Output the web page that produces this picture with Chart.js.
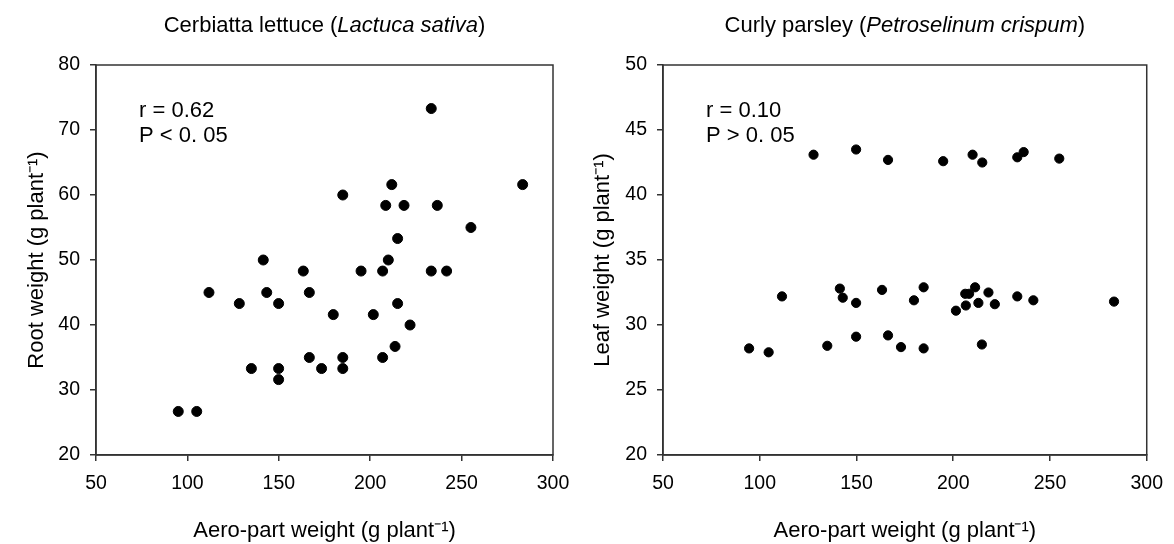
<!DOCTYPE html>
<html>
<head>
<meta charset="utf-8">
<script src="https://cdn.jsdelivr.net/npm/chart.js@4.4.0/dist/chart.umd.min.js"></script>
<style>
  body { margin: 0; background: #fff; }
  .panel { position: absolute; top: 0; width: 587px; height: 544px; }
</style>
</head>
<body>
<div class="panel" style="left:0"><canvas id="lettuceChart" width="587" height="544"></canvas></div>
<div class="panel" style="left:587px"><canvas id="parsleyChart" width="587" height="544"></canvas></div>
<script>
// lettuce: aero-part weight vs root weight
const lettuceAero = [95.0, 105.1, 111.8, 128.4, 135.0, 141.5, 143.4, 149.9, 149.9, 149.9, 163.4, 166.7,
  166.7, 173.4, 179.8, 185.0, 185.0, 185.0, 195.0, 201.7, 206.8, 206.8, 208.5, 209.9, 211.8, 213.6,
  215.0, 215.0, 218.5, 221.8, 233.4, 233.4, 236.7, 241.8, 255.1, 283.4];
const lettuceRoot = [26.7, 26.7, 45.0, 43.3, 33.3, 50.0, 45.0, 43.3, 33.3, 31.6, 48.3, 45.0,
  35.0, 33.3, 41.6, 60.0, 35.0, 33.3, 48.3, 41.6, 48.3, 35.0, 58.4, 50.0, 61.6, 36.7,
  53.3, 43.3, 58.4, 40.0, 73.3, 48.3, 58.4, 48.3, 55.0, 61.6];

// parsley: aero-part weight vs leaf weight
const parsleyAero = [127.8, 149.8, 166.3, 194.8, 210.0, 215.0, 233.1, 236.4, 254.8,
  111.5, 141.4, 142.9, 149.8, 163.2, 179.7, 184.7, 201.4, 206.2, 208.2, 211.3, 206.5, 213.0,
  218.2, 221.5, 233.1, 241.4, 283.1,
  94.5, 104.6, 134.9, 149.8, 166.3, 173.0, 184.7, 214.8];
const parsleyLeaf = [43.1, 43.5, 42.7, 42.6, 43.1, 42.5, 42.9, 43.3, 42.8,
  32.2, 32.8, 32.1, 31.7, 32.7, 31.9, 32.9, 31.1, 32.4, 32.4, 32.9, 31.5, 31.7,
  32.5, 31.6, 32.2, 31.9, 31.8,
  28.2, 27.9, 28.4, 29.1, 29.2, 28.3, 28.2, 28.5];

const aeroTicks = [50, 100, 150, 200, 250, 300];
const rootTicks = [20, 30, 40, 50, 60, 70, 80];
const leafTicks = [20, 25, 30, 35, 40, 45, 50];

const FONT = '"Liberation Sans", Arial, sans-serif';
const AXIS = '#333';

// box round the plot area, mixed italic title, r / P text
const frameAndText = {
  id: 'frameAndText',
  afterDraw(chart, args, opts) {
    const { ctx, chartArea: a } = chart;
    ctx.save();
    ctx.strokeStyle = AXIS;
    ctx.lineWidth = 1.5;
    ctx.strokeRect(a.left, a.top, a.right - a.left, a.bottom - a.top);

    ctx.fillStyle = '#000';
    ctx.textBaseline = 'alphabetic';
    const fonts = opts.title.map(p => (p[1] ? 'italic ' : '') + '22px ' + FONT);
    let total = 0;
    opts.title.forEach((p, i) => { ctx.font = fonts[i]; total += ctx.measureText(p[0]).width; });
    let x = (a.left + a.right) / 2 - total / 2;
    opts.title.forEach((p, i) => {
      ctx.font = fonts[i];
      ctx.fillText(p[0], x, 32);
      x += ctx.measureText(p[0]).width;
    });

    ctx.font = '22px ' + FONT;
    opts.stats.forEach((s, i) => ctx.fillText(s, a.left + 43, 117 + i * 25));
    ctx.restore();
  }
};

function makeChart(id, xs, ys, yTicks, yLabel, axisWidth, padRight, yTitlePad, radius, title, stats) {
  const points = xs.map((x, i) => ({ x: x, y: ys[i] }));
  return new Chart(document.getElementById(id), {
    type: 'scatter',
    data: {
      datasets: [{
        data: points,
        backgroundColor: '#000',
        borderColor: '#000',
        pointRadius: radius,
        pointHoverRadius: radius,
      }],
    },
    plugins: [frameAndText],
    options: {
      responsive: false,
      animation: false,
      layout: { padding: { top: 65, right: padRight, bottom: 0, left: 0 } },
      plugins: {
        legend: { display: false },
        tooltip: { enabled: false },
        frameAndText: { title: title, stats: stats },
      },
      scales: {
        x: {
          type: 'linear',
          min: aeroTicks[0],
          max: aeroTicks[aeroTicks.length - 1],
          afterBuildTicks: scale => { scale.ticks = aeroTicks.map(v => ({ value: v })); },
          afterFit: scale => { scale.height = 89; },
          grid: { drawOnChartArea: false, drawTicks: true, tickLength: 6, color: AXIS, lineWidth: 1.5 },
          border: { display: true, color: AXIS, width: 1.5 },
          ticks: { color: '#000', padding: 11, font: { family: FONT, size: 19.5 } },
          title: {
            display: true,
            text: 'Aero-part weight (g plant\u207B\u00B9)',
            color: '#000',
            font: { family: FONT, size: 22 },
            padding: { top: 0, bottom: 0 },
          },
        },
        y: {
          type: 'linear',
          min: yTicks[0],
          max: yTicks[yTicks.length - 1],
          afterBuildTicks: scale => { scale.ticks = yTicks.map(v => ({ value: v })); },
          afterFit: scale => { scale.width = axisWidth; },
          grid: { drawOnChartArea: false, drawTicks: true, tickLength: 6, color: AXIS, lineWidth: 1.5 },
          border: { display: true, color: AXIS, width: 1.5 },
          ticks: { color: '#000', padding: 10, font: { family: FONT, size: 19.5 } },
          title: {
            display: true,
            text: yLabel,
            color: '#000',
            font: { family: FONT, size: 22 },
            padding: { top: yTitlePad, bottom: 0 },
          },
        },
      },
    },
  });
}

makeChart('lettuceChart', lettuceAero, lettuceRoot, rootTicks,
  'Root weight (g plant\u207B\u00B9)', 96, 34, 24, 5,
  [['Cerbiatta lettuce (', false], ['Lactuca sativa', true], [')', false]],
  ['r = 0.62', 'P < 0. 05']);

makeChart('parsleyChart', parsleyAero, parsleyLeaf, leafTicks,
  'Leaf weight (g plant\u207B\u00B9)', 76, 26, 3, 4.6,
  [['Curly parsley (', false], ['Petroselinum crispum', true], [')', false]],
  ['r = 0.10', 'P > 0. 05']);
</script>
</body>
</html>
